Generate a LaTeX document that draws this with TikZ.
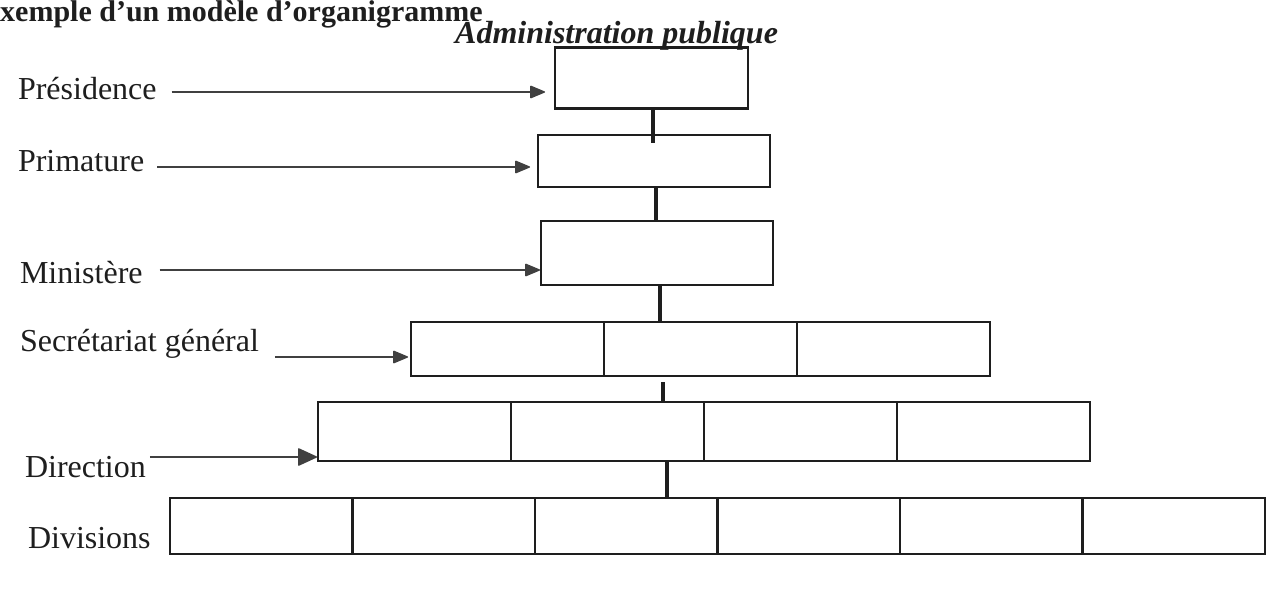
\documentclass[tikz,border=0pt]{standalone}
\usepackage{fontspec}
\setmainfont{Liberation Serif}
\usetikzlibrary{arrows.meta,calc}
\definecolor{ink}{HTML}{1E1E1E}
\begin{document}
\begin{tikzpicture}[x=1pt,y=-1pt,
  box/.style={draw=ink,line width=2.4pt,inner sep=0pt,outer sep=0pt},
  lab/.style={anchor=base west,inner sep=0pt,outer sep=0pt,text=ink,font=\fontsize{32}{38}\selectfont},
  arr/.style={draw=ink!85,line width=1.4pt,-{Triangle[length=16pt,width=13pt,round]}},
  bigarr/.style={draw=ink!85,line width=1.4pt,-{Triangle[length=20pt,width=18pt,round]}},
  conn/.style={draw=ink,line width=3.8pt},
  divider/.style={draw=ink,line width=2.2pt}]
\fill[white] (0,0) rectangle (1279,589);
\useasboundingbox (0,0) rectangle (1279,589);

% titles
\node[anchor=base west,inner sep=0pt,text=ink,font=\fontsize{30}{36}\selectfont\bfseries] (title) at (0,21) {xemple d’un modèle d’organigramme};
\node[anchor=base west,inner sep=0pt,text=ink,font=\fontsize{32}{38}\selectfont\bfseries\itshape] (admin) at (455,43) {Administration publique};

% boxes
\node[box,minimum width=193pt,minimum height=61pt] (b1) at (651.5,78) {};
\node[box,minimum width=232pt,minimum height=52pt] (b2) at (654,161) {};
\node[box,minimum width=232pt,minimum height=64pt] (b3) at (657,253) {};
\node[box,minimum width=579pt,minimum height=54pt] (b4) at (700.5,349) {};
\node[box,minimum width=772pt,minimum height=59pt] (b5) at (704,431.5) {};
\node[box,minimum width=1095pt,minimum height=56pt] (b6) at (717.5,526) {};

% cell dividers
\foreach \i in {1,2}
  \draw[divider] ($(b4.north west)!\i/3!(b4.north east)$) -- ($(b4.south west)!\i/3!(b4.south east)$);
\foreach \i in {1,2,3}
  \draw[divider] ($(b5.north west)!\i/4!(b5.north east)$) -- ($(b5.south west)!\i/4!(b5.south east)$);
\foreach \i in {1,...,5}
  \draw[divider] ($(b6.north west)!\i/6!(b6.north east)$) -- ($(b6.south west)!\i/6!(b6.south east)$);

% vertical connectors
\draw[conn,shorten >=-8pt] (b1.south -| 653,0) -- (b2.north -| 653,0);
\draw[conn] (b2.south -| 656,0) -- (b3.north -| 656,0);
\draw[conn] (b3.south -| 660,0) -- (b4.north -| 660,0);
\draw[conn,shorten <=6pt] (b4.south -| 663,0) -- (b5.north -| 663,0);
\draw[conn] (b5.south -| 667,0) -- (b6.north -| 667,0);

% labels
\node[lab] (l1) at (18,99) {Présidence};
\node[lab] (l2) at (18,171) {Primature};
\node[lab] (l3) at (20,283) {Ministère};
\node[lab] (l4) at (20,351) {Secrétariat général};
\node[lab] (l5) at (25,477) {Direction};
\node[lab] (l6) at (28,548) {Divisions};

% arrows
\draw[arr,shorten <=15pt,shorten >=10pt] (l1.east |- 0,92) -- (b1.west |- 0,92);
\draw[arr,shorten <=13pt,shorten >=8pt] (l2.east |- 0,167) -- (b2.west |- 0,167);
\draw[arr,shorten <=17pt,shorten >=1pt] (l3.east |- 0,270) -- (b3.west |- 0,270);
\draw[arr,shorten <=16pt,shorten >=3pt] (l4.east |- 0,357) -- (b4.west |- 0,357);
\draw[bigarr,shorten <=4pt,shorten >=1pt] (l5.east |- 0,457) -- (b5.west |- 0,457);
\end{tikzpicture}
\end{document}
